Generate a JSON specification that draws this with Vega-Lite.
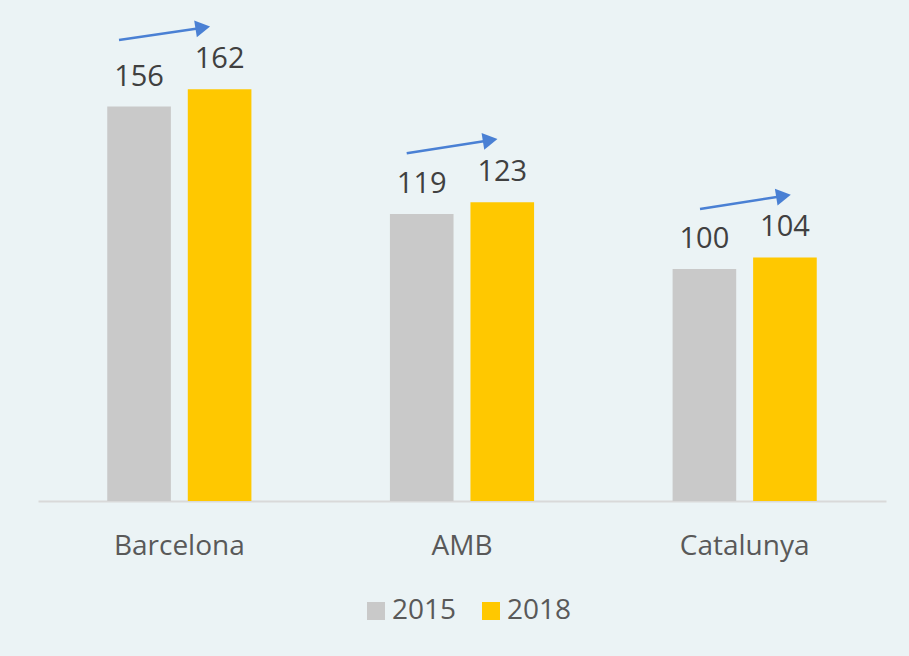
{
  "$schema": "https://vega.github.io/schema/vega-lite/v6.json",
  "width": 848,
  "height": 464,
  "autosize": "none",
  "padding": {"left": 38, "top": 37, "right": 23, "bottom": 155},
  "background": "#EBF3F5",
  "config": {"view": {"stroke": null}, "font": "Open Sans"},
  "datasets": {
    "bars": [
      {"region": "Barcelona", "year": "2015", "value": 156},
      {"region": "Barcelona", "year": "2018", "value": 162},
      {"region": "AMB", "year": "2015", "value": 119},
      {"region": "AMB", "year": "2018", "value": 123},
      {"region": "Catalunya", "year": "2015", "value": 100},
      {"region": "Catalunya", "year": "2018", "value": 104}
    ],
    "arrows": [
      {"region": "Barcelona", "x_start": 0.2866, "y_start": 179.0, "x_head": 0.583, "y_head": 183.2},
      {"region": "AMB", "x_start": 1.3044, "y_start": 139.9, "x_head": 1.5997, "y_head": 144.4},
      {"region": "Catalunya", "x_start": 2.342, "y_start": 120.7, "x_head": 2.6374, "y_head": 125.2}
    ]
  },
  "layer": [
    {
      "data": {"name": "bars"},
      "encoding": {
        "x": {
          "field": "region",
          "type": "nominal",
          "sort": ["Barcelona", "AMB", "Catalunya"],
          "scale": {"paddingInner": 0.49, "paddingOuter": 0.245},
          "axis": {
            "title": null,
            "ticks": false,
            "tickSize": 0,
            "grid": false,
            "labelAngle": 0,
            "labelPadding": 53,
            "labelBaseline": "alphabetic",
            "labelFontSize": 28,
            "labelColor": "#595959",
            "domainColor": "#D9D9D9",
            "domainWidth": 2
          }
        },
        "xOffset": {
          "field": "year",
          "type": "nominal",
          "scale": {"paddingInner": 0.21, "paddingOuter": 0}
        },
        "y": {
          "field": "value",
          "type": "quantitative",
          "scale": {"domain": [20, 180], "nice": false, "zero": false},
          "axis": null
        }
      },
      "layer": [
        {
          "mark": {"type": "bar"},
          "encoding": {
            "y2": {"datum": 20},
            "color": {
              "field": "year",
              "type": "nominal",
              "scale": {"range": ["#C9C9C9", "#FFC800"]},
              "legend": {
                "title": null,
                "orient": "none",
                "legendX": 324,
                "legendY": 560,
                "direction": "horizontal",
                "symbolType": "square",
                "symbolSize": 324,
                "symbolStrokeWidth": 0,
                "symbolOpacity": 1,
                "labelFontSize": 28,
                "labelColor": "#595959",
                "labelOffset": 2,
                "columnPadding": 20,
                "padding": 0
              }
            }
          }
        },
        {
          "mark": {"type": "text", "dy": -21, "baseline": "alphabetic", "fontSize": 29, "color": "#404040"},
          "encoding": {"text": {"field": "value", "type": "quantitative"}}
        }
      ]
    },
    {
      "data": {"name": "arrows"},
      "layer": [
        {
          "mark": {"type": "rule", "color": "#4A80D4", "strokeWidth": 2.5},
          "encoding": {
            "x": {"field": "x_start", "type": "quantitative", "scale": {"domain": [0, 3], "nice": false, "zero": false}, "axis": null},
            "x2": {"field": "x_head"},
            "y": {"field": "y_start", "type": "quantitative", "scale": {"domain": [20, 180], "nice": false, "zero": false}, "axis": null},
            "y2": {"field": "y_head"}
          }
        },
        {
          "mark": {"type": "point", "shape": "triangle-right", "filled": true, "size": 290, "angle": -9, "color": "#4A80D4", "opacity": 1},
          "encoding": {
            "x": {"field": "x_head", "type": "quantitative", "scale": {"domain": [0, 3], "nice": false, "zero": false}, "axis": null},
            "y": {"field": "y_head", "type": "quantitative", "scale": {"domain": [20, 180], "nice": false, "zero": false}, "axis": null}
          }
        }
      ]
    }
  ],
  "resolve": {"scale": {"x": "independent"}, "axis": {"x": "independent"}}
}
